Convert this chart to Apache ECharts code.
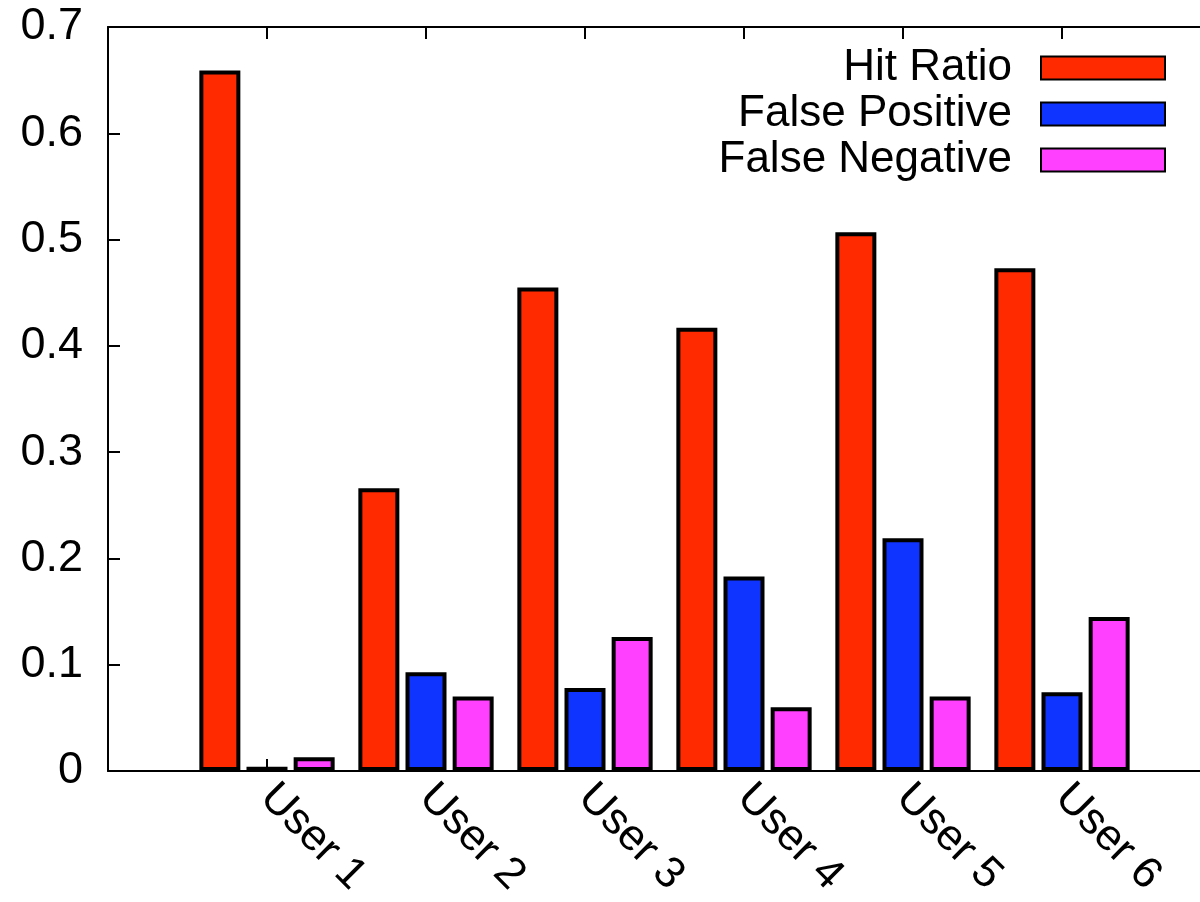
<!DOCTYPE html>
<html>
<head>
<meta charset="utf-8">
<script src="https://cdn.jsdelivr.net/npm/echarts@6/dist/echarts.min.js"></script>
<style>
  html, body { margin: 0; padding: 0; background: #fff; }
  #chart { width: 1200px; height: 902px; }
</style>
</head>
<body>
<div id="chart"></div>
<script>
// Per-user detection rates
const users = ['User 1', 'User 2', 'User 3', 'User 4', 'User 5', 'User 6'];
const hitRatio = [0.659, 0.266, 0.455, 0.417, 0.507, 0.473];
const falsePositive = [0.004, 0.093, 0.078, 0.183, 0.219, 0.074];
const falseNegative = [0.013, 0.070, 0.126, 0.060, 0.070, 0.145];
const yTicks = [0, 0.1, 0.2, 0.3, 0.4, 0.5, 0.6, 0.7];

const seriesNames = ['Hit Ratio', 'False Positive', 'False Negative'];
const seriesColors = ['#ff2a00', '#1034ff', '#ff40ff'];
const seriesValues = [hitRatio, falsePositive, falseNegative];

// Empty slot before the first user and after the last one leave room on both sides
const cats = [''].concat(users, ['']);
const pad = arr => ['-'].concat(arr, ['-']);

const FONT = 'Liberation Sans, Arial, Helvetica, sans-serif';

const chart = echarts.init(document.getElementById('chart'), null, { renderer: 'canvas' });

const xCommon = {
  type: 'category',
  data: cats,
  boundaryGap: false,
  axisLine: { show: true, lineStyle: { color: '#000', width: 2 } },
  axisTick: { show: true, inside: true, length: 12, interval: 0, lineStyle: { color: '#000', width: 2 } },
  splitLine: { show: false }
};

chart.setOption({
  animation: false,
  backgroundColor: '#fff',
  textStyle: { fontFamily: FONT },
  // the plot runs past the right edge of the canvas, so no right border shows
  grid: {
    left: 108, top: 27, width: 1113, bottom: 131,
    containLabel: false, outerBoundsMode: 'none'
  },
  legend: {
    orient: 'vertical',
    right: 29,
    top: 40,
    align: 'right',
    icon: 'rect',
    itemWidth: 124,
    itemHeight: 23,
    itemGap: 0,
    textStyle: {
      fontSize: 44, lineHeight: 46, color: '#000', fontFamily: FONT,
      padding: [0, 24, 0, 0]
    },
    data: seriesNames
  },
  xAxis: [
    Object.assign({}, xCommon, {
      position: 'bottom',
      axisLabel: {
        show: true, interval: 0, rotate: -45, margin: 20,
        fontSize: 44, color: '#000', fontFamily: FONT
      }
    }),
    Object.assign({}, xCommon, {
      position: 'top',
      axisLabel: { show: false }
    })
  ],
  yAxis: {
    type: 'value',
    min: 0,
    max: 0.7,
    interval: 0.1,
    axisLine: { show: true, lineStyle: { color: '#000', width: 2 } },
    axisTick: { show: true, inside: true, length: 12, lineStyle: { color: '#000', width: 2 } },
    splitLine: { show: false },
    axisLabel: {
      fontSize: 45, color: '#000', margin: 25, fontFamily: FONT,
      formatter: v => {
        const t = yTicks.find(k => Math.abs(k - v) < 1e-9);
        return t === undefined ? '' : (t === 0 ? '0' : String(t));
      }
    }
  },
  series: seriesNames.map((name, i) => ({
    name: name,
    type: 'bar',
    xAxisIndex: 0,
    barWidth: 41,
    barGap: '15%',
    data: pad(seriesValues[i]),
    itemStyle: { color: seriesColors[i], borderColor: '#000', borderWidth: 4 }
  }))
});
</script>
</body>
</html>
